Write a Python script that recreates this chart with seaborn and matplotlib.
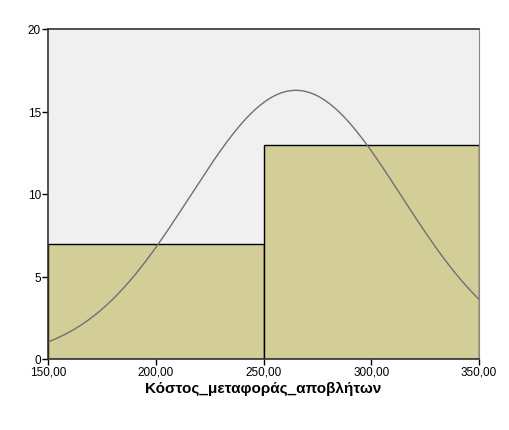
import numpy as np
import matplotlib
matplotlib.use("Agg")
import matplotlib.pyplot as plt
import seaborn as sns

# ----- data -----
bin_edges = [150, 250, 350]
bin_centers = [200, 300]
counts = [7, 13]
curve_mean = 265.0
curve_sd = 49.0
n_total = 20
xticks = [150, 200, 250, 300, 350]
yticks = [0, 5, 10, 15, 20]
xlabel = "Κόστος_μεταφοράς_αποβλήτων"

sns.set_style("white")
plt.rcParams["font.family"] = ["Liberation Sans", "DejaVu Sans"]

fig = plt.figure(figsize=(5.09, 4.31), dpi=100)
ax = fig.add_axes([48 / 509, 1 - 360 / 431, 431 / 509, 330 / 431])
ax.set_facecolor("#f0f0f0")

sns.histplot(x=bin_centers, weights=counts, bins=bin_edges, ax=ax,
             color="#d3ce98", edgecolor="black", linewidth=1.0, alpha=1.0)

# normal curve scaled to counts
xs = np.linspace(150, 350, 300)
bw = bin_edges[1] - bin_edges[0]
ys = n_total * bw / (curve_sd * np.sqrt(2 * np.pi)) * np.exp(-(xs - curve_mean) ** 2 / (2 * curve_sd ** 2))
ax.plot(xs, ys, color="#707070", linewidth=1.0)

ax.set_xlim(150, 350)
ax.set_ylim(0, 20)
ax.set_xticks(xticks)
ax.set_xticklabels([f"{v:.2f}".replace(".", ",") for v in xticks], fontsize=8.5, color="black")
ax.set_yticks(yticks)
ax.set_yticklabels([str(v) for v in yticks], fontsize=8.5, color="black")
ax.tick_params(axis="both", direction="out", length=4, width=1, color="black", pad=1)
ax.tick_params(axis="both", which="both", bottom=True, left=True)
ax.set_xlabel(xlabel, fontsize=11, fontweight="bold", labelpad=2, color="black")
ax.set_ylabel("")

for side in ["left", "bottom", "top"]:
    ax.spines[side].set_color("#333333")
    ax.spines[side].set_linewidth(1.2)
ax.spines["right"].set_color("#888888")
ax.spines["right"].set_linewidth(0.8)

fig.savefig("out.png", dpi=100)
